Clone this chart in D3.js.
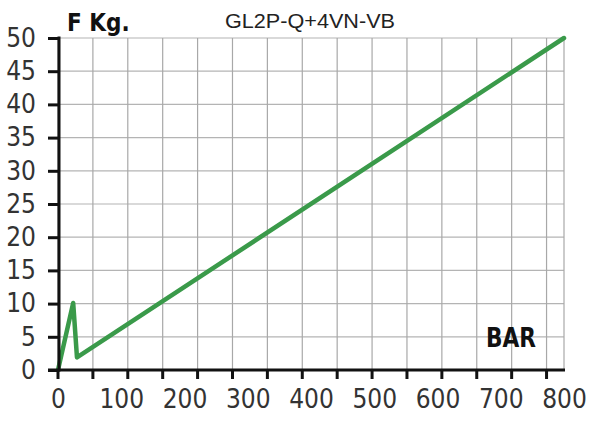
<!DOCTYPE html>
<html>
<head>
<meta charset="utf-8">
<script src="https://cdn.jsdelivr.net/npm/d3@7"></script>
<style>
  html, body { margin: 0; padding: 0; background: #fff; }
  svg { display: block; }
</style>
</head>
<body>
<svg id="chart" width="589" height="423"></svg>
<script>
// ---- data ----
const title = "GL2P-Q+4VN-VB";
const yTitle = "F Kg.";
const xTitle = "BAR";
const pressure = [0, 24, 30, 800];      // BAR
const force    = [0, 10.1, 1.9, 50];    // F Kg.
const xTickLabels = [0, 100, 200, 300, 400, 500, 600, 700, 800];
const yTickLabels = [0, 5, 10, 15, 20, 25, 30, 35, 40, 45, 50];
const gridDivisions = d3.range(0, 15);  // vertical grid / tick marks (independent of labels)

// ---- layout ----
const svg = d3.select("#chart");
const pLeft = 59, pRight = 564, pTop = 38, pBottom = 370;

const x = d3.scaleLinear().domain([0, 800]).range([pLeft - 1, pRight]);
const y = d3.scaleLinear().domain([0, 50]).range([pBottom, pTop]);
const gx = d3.scaleLinear().domain([0, 14.5]).range([pLeft - 1, pRight]);

const tickFont = "'DejaVu Sans Condensed', 'DejaVu Sans', sans-serif";

// horizontal grid
svg.append("g").selectAll("line").data(yTickLabels).join("line")
  .attr("x1", pLeft).attr("x2", pRight)
  .attr("y1", d => y(d)).attr("y2", d => y(d))
  .attr("stroke", "#b4b4b4").attr("stroke-width", 1.2);

// vertical grid
svg.append("g").selectAll("line").data(gridDivisions.concat([14.5])).join("line")
  .attr("x1", d => gx(d)).attr("x2", d => gx(d))
  .attr("y1", pTop).attr("y2", pBottom)
  .attr("stroke", "#a8a8a8").attr("stroke-width", 1.2);

// data line
const line = d3.line().x((d, i) => x(pressure[i])).y(d => y(d));
svg.append("path")
  .datum(force)
  .attr("d", line)
  .attr("fill", "none")
  .attr("stroke", "#3a9a4a")
  .attr("stroke-width", 4.5)
  .attr("stroke-linejoin", "round")
  .attr("stroke-linecap", "round");

// y axis
const yAxis = svg.append("g")
  .attr("transform", `translate(${pLeft},0)`)
  .call(d3.axisLeft(y).tickValues(yTickLabels).tickSize(11).tickPadding(12).tickSizeOuter(0));
yAxis.select(".domain").attr("stroke", "#111").attr("stroke-width", 3)
  .attr("d", `M0,${pTop - 1.5}V${pBottom + 1.5}`);
yAxis.selectAll(".tick line").attr("stroke", "#111").attr("stroke-width", 3);
yAxis.selectAll(".tick text")
  .attr("font-family", tickFont).attr("font-size", 26).attr("fill", "#333");

// x axis line + tick marks from grid scale
svg.append("line")
  .attr("x1", pLeft - 11).attr("x2", pRight + 1)
  .attr("y1", pBottom).attr("y2", pBottom)
  .attr("stroke", "#111").attr("stroke-width", 3);
svg.append("g").selectAll("line").data(gridDivisions).join("line")
  .attr("x1", d => gx(d)).attr("x2", d => gx(d))
  .attr("y1", pBottom).attr("y2", pBottom + 9)
  .attr("stroke", "#111").attr("stroke-width", 3);

// x labels
const xAxis = svg.append("g")
  .attr("transform", `translate(0,${pBottom})`)
  .call(d3.axisBottom(x).tickValues(xTickLabels).tickSize(0).tickPadding(20));
xAxis.select(".domain").remove();
xAxis.selectAll(".tick text")
  .attr("font-family", tickFont).attr("font-size", 26).attr("fill", "#333");

// titles
svg.append("text")
  .attr("x", 67).attr("y", 31)
  .attr("font-family", "'DejaVu Sans Condensed', 'DejaVu Sans', sans-serif")
  .attr("font-weight", "bold").attr("font-size", 24).attr("fill", "#111")
  .text(yTitle);

svg.append("text")
  .attr("x", 310).attr("y", 28).attr("text-anchor", "middle")
  .attr("font-family", "'Liberation Sans', Arial, sans-serif")
  .attr("font-size", 21).attr("fill", "#222")
  .attr("textLength", 170).attr("lengthAdjust", "spacingAndGlyphs")
  .text(title);

svg.append("text")
  .attr("x", 511).attr("y", 347).attr("text-anchor", "middle")
  .attr("font-family", "'DejaVu Sans Condensed', 'DejaVu Sans', sans-serif")
  .attr("font-weight", "bold").attr("font-size", 26).attr("fill", "#111")
  .attr("textLength", 50).attr("lengthAdjust", "spacingAndGlyphs")
  .text(xTitle);
</script>
</body>
</html>
